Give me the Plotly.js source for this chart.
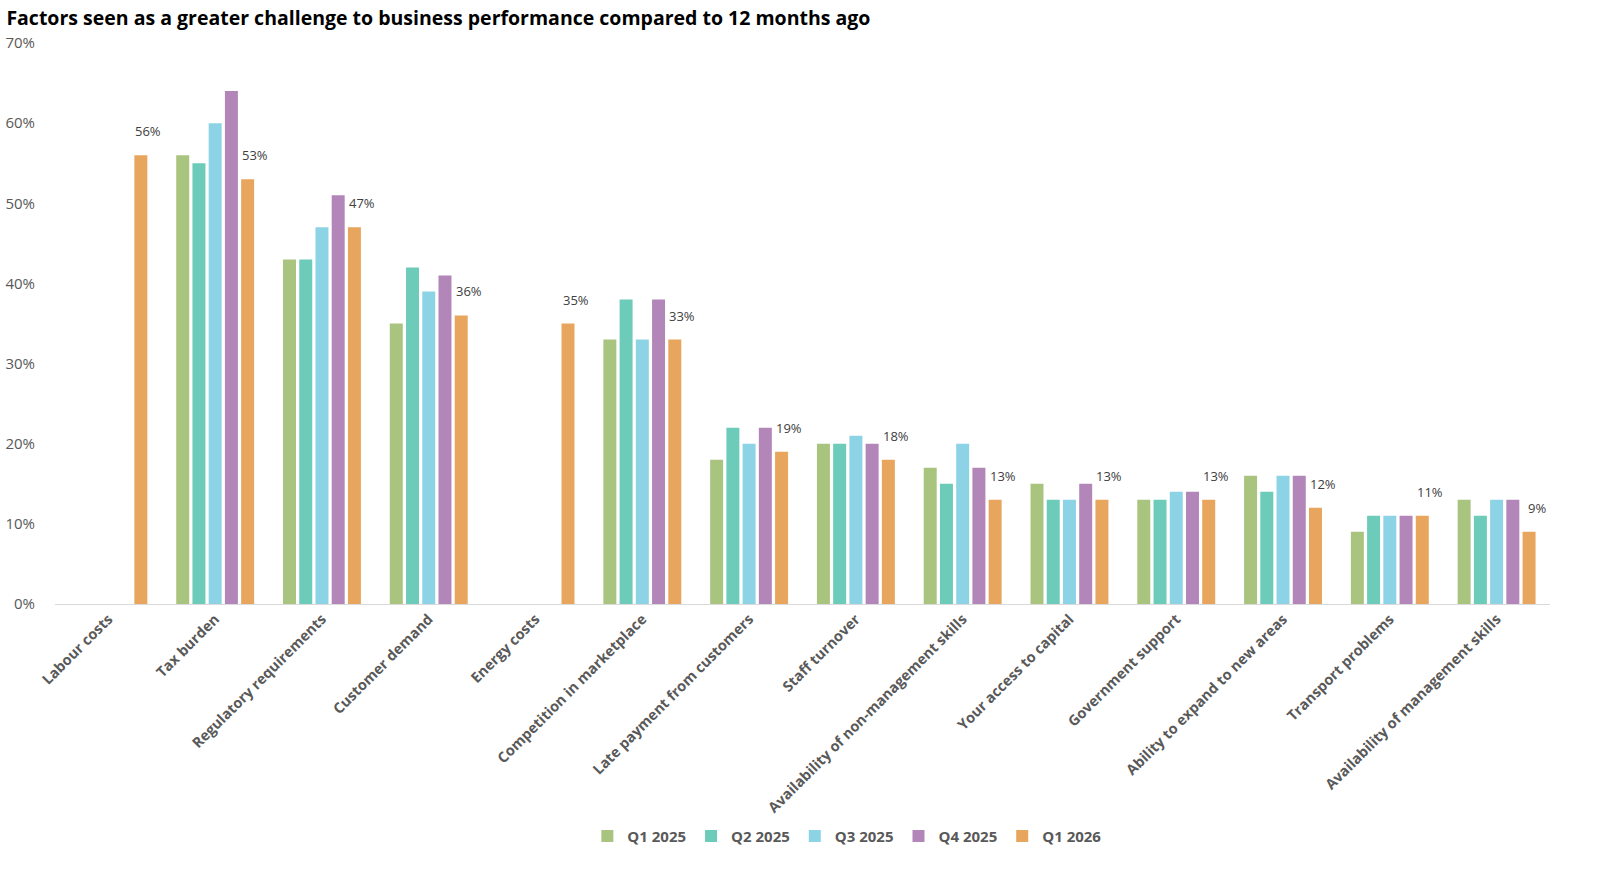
<!DOCTYPE html>
<html>
<head>
<meta charset="utf-8">
<script src="https://cdn.plot.ly/plotly-3.0.1.min.js"></script>
<style>
  html, body { margin: 0; padding: 0; background: #fff; }
  #chart { width: 1600px; height: 870px; }
</style>
</head>
<body>
<div id="chart"></div>
<script>
// categories and values (percent)
var factors = [
    "Labour costs", "Tax burden", "Regulatory requirements", "Customer demand",
    "Energy costs", "Competition in marketplace", "Late payment from customers",
    "Staff turnover", "Availability of non-management skills", "Your access to capital",
    "Government support", "Ability to expand to new areas", "Transport problems",
    "Availability of management skills"
];
var q1_2025 = [null, 56, 43, 35, null, 33, 18, 20, 17, 15, 13, 16, 9, 13];
var q2_2025 = [null, 55, 43, 42, null, 38, 22, 20, 15, 13, 13, 14, 11, 11];
var q3_2025 = [null, 60, 47, 39, null, 33, 20, 21, 20, 13, 14, 16, 11, 13];
var q4_2025 = [null, 64, 51, 41, null, 38, 22, 20, 17, 15, 14, 16, 11, 13];
var q1_2026 = [56, 53, 47, 36, 35, 33, 19, 18, 13, 13, 13, 12, 11, 9];

var seriesNames = ["Q1 2025", "Q2 2025", "Q3 2025", "Q4 2025", "Q1 2026"];
var seriesColors = ["#a9c47f", "#6ccbb9", "#8dd3e6", "#b286b9", "#e8a55d"];
var seriesValues = [q1_2025, q2_2025, q3_2025, q4_2025, q1_2026];

var fontFamily = "'Open Sans', 'Noto Sans', sans-serif";

var traces = [];
for (var i = 0; i < seriesNames.length; i++) {
    traces.push({
        type: "bar",
        name: seriesNames[i],
        x: factors,
        y: seriesValues[i],
        marker: { color: seriesColors[i] },
        hoverinfo: "x+y+name"
    });
}

// data labels only on the latest quarter, nudged up and right like the original
var labels = [];
for (var j = 0; j < factors.length; j++) {
    labels.push({
        x: factors[j],
        y: q1_2026[j],
        xref: "x",
        yref: "y",
        text: q1_2026[j] + "%",
        showarrow: false,
        xanchor: "center",
        yanchor: "bottom",
        xshift: 40,
        yshift: 13,
        font: { family: fontFamily, size: 13, color: "#404040" }
    });
}

var layout = {
    width: 1600,
    height: 870,
    margin: { l: 55, r: 50, t: 43, b: 266 },
    paper_bgcolor: "#ffffff",
    plot_bgcolor: "#ffffff",
    barmode: "group",
    bargap: 0.24,
    bargroupgap: 0.2,
    title: {
        text: "<b>Factors seen as a greater challenge to business performance compared to 12 months ago</b>",
        font: { family: fontFamily, size: 19.5, color: "#000000" },
        xref: "container",
        x: 0.004,
        xanchor: "left",
        yref: "container",
        y: 0.979,
        yanchor: "middle"
    },
    xaxis: {
        type: "category",
        tickangle: -45,
        tickfont: { family: fontFamily, size: 14.5, color: "#595959", weight: "bold" },
        showline: true,
        linecolor: "#d9d9d9",
        linewidth: 1,
        ticks: "",
        showgrid: false,
        fixedrange: true
    },
    yaxis: {
        range: [0, 70],
        dtick: 10,
        ticksuffix: "%",
        tickfont: { family: fontFamily, size: 15, color: "#595959" },
        showgrid: false,
        zeroline: false,
        showline: false,
        ticks: "outside",
        ticklen: 16,
        tickcolor: "rgba(0,0,0,0)",
        fixedrange: true
    },
    legend: {
        orientation: "h",
        x: 0.53,
        xanchor: "center",
        y: -0.414,
        yanchor: "middle",
        font: { family: fontFamily, size: 15, color: "#595959", weight: "bold" },
        itemwidth: 30,
        traceorder: "normal"
    },
    annotations: labels,
    showlegend: true
};

Plotly.newPlot("chart", traces, layout, { displayModeBar: false, staticPlot: false });
</script>
</body>
</html>
